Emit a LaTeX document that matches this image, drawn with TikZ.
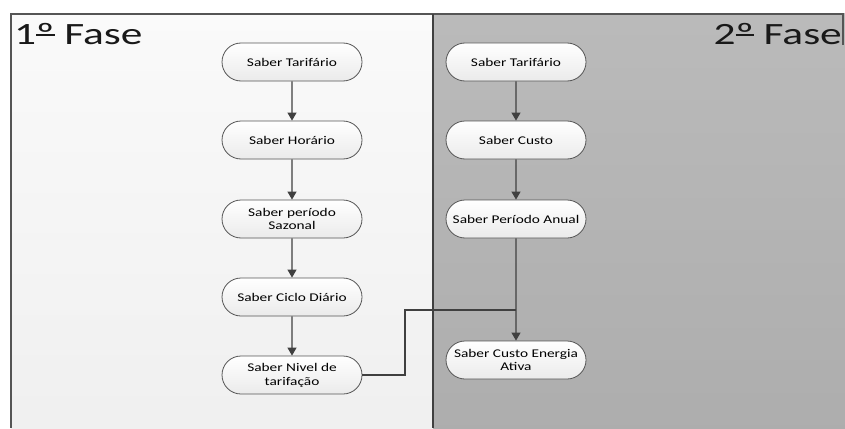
\documentclass[tikz,border=0pt]{standalone}
\usepackage{fontspec}
\usetikzlibrary{arrows.meta,shapes.misc}
\newfontfamily\stepfont{Carlito}[FakeStretch=1.3]
\newfontfamily\phasefont{Carlito}[FakeStretch=1.4]
\definecolor{lineclr}{HTML}{404040}
\definecolor{edgeclr}{HTML}{555555}
% underlined ordinal indicator
\newlength\ordw
\newcommand\ordmark{\settowidth\ordw{º}\rlap{º}\raisebox{0.3em}{\rule{\ordw}{0.06em}}}
\tikzset{
  stepbox/.style={rounded rectangle, draw=edgeclr, line width=0.8pt,
    top color=white, bottom color=black!8, minimum width=140pt,
    minimum height=38pt, inner sep=0pt, align=center,
    font=\stepfont\fontsize{11.8}{13.8}\selectfont, text=black},
  flow/.style={draw=lineclr, line width=1.1pt,
    -{Triangle[width=9pt,length=8pt]}},
  link/.style={draw=lineclr, line width=1.1pt},
  phase/.style={font=\phasefont\fontsize{31}{31}\selectfont, text=black!90,
    inner sep=0pt}
}
\begin{document}
\begin{tikzpicture}[x=1pt,y=-1pt]
\useasboundingbox (0,0) rectangle (845,428);
\fill[white] (0,0) rectangle (845,428);
% panels
\shade[top color=black!2, bottom color=black!6] (11,14) rectangle (433,428);
\shade[top color=black!27, bottom color=black!32] (433,14) rectangle (845,428);
\draw[edgeclr, line width=1.2pt] (11,428) -- (11,14) -- (843,14) -- (843,45);
\draw[lineclr, line width=2.2pt] (433,14) -- (433,428);
% phase titles
\node[phase, anchor=base west] (t1) at (14,45) {1\ordmark\ Fase};
\node[phase, anchor=base east] (t2) at (842,45) {2\ordmark\ Fase};
% first phase
\node[stepbox] (a1) at (292,62) {Saber Tarifário};
\node[stepbox] (a2) at (292,140) {Saber Horário};
\node[stepbox] (a3) at (292,219) {Saber período\\Sazonal};
\node[stepbox] (a4) at (292,297) {Saber Ciclo Diário};
\node[stepbox] (a5) at (292,375) {Saber Nivel de\\tarifação};
% second phase
\node[stepbox] (b1) at (516,62) {Saber Tarifário};
\node[stepbox] (b2) at (516,140) {Saber Custo};
\node[stepbox] (b3) at (516,219) {Saber Período Anual};
\node[stepbox] (b4) at (516,360) {Saber Custo Energia\\Ativa};
% connectors
\draw[flow] (a1) -- (a2);
\draw[flow] (a2) -- (a3);
\draw[flow] (a3) -- (a4);
\draw[flow] (a4) -- (a5);
\draw[flow] (b1) -- (b2);
\draw[flow] (b2) -- (b3);
\draw[flow] (b3) -- (b4);
\coordinate (bend) at (405,310);
\draw[link] (a5.east) -| (bend) -- (bend -| b4.north);
\end{tikzpicture}
\end{document}
